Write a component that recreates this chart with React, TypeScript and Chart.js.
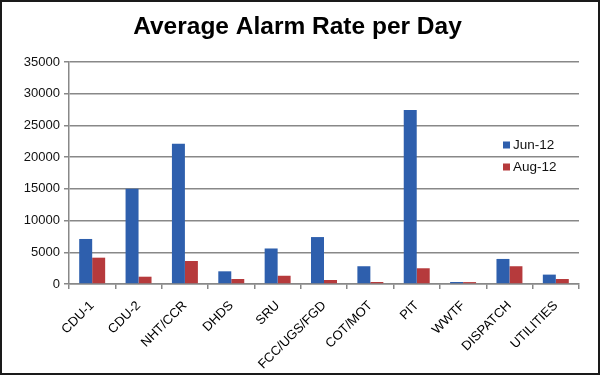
import React, { useEffect, useRef } from "react";
import { Chart, registerables } from "chart.js";

Chart.register(...registerables);

const TITLE = "Average Alarm Rate per Day";
const categories = ["CDU-1", "CDU-2", "NHT/CCR", "DHDS", "SRU", "FCC/UGS/FGD", "COT/MOT", "PIT", "WWTF", "DISPATCH", "UTILITIES"];
const seriesNames = ["Jun-12", "Aug-12"];
const jun12 = [7100, 15000, 22100, 2000, 5600, 7400, 2800, 27450, 320, 3950, 1480];
const aug12 = [4150, 1150, 3630, 790, 1300, 630, 320, 2480, 300, 2800, 790];
const yTicks = [0, 5000, 10000, 15000, 20000, 25000, 30000, 35000];

const BLUE = "#2E5FAD";
const RED = "#B63A3C";
const FONT = "Arial, 'Liberation Sans', sans-serif";

const framePlugin = {
  id: "frame",
  beforeDraw(chart: any) {
    const ctx = chart.ctx;
    ctx.save();
    ctx.fillStyle = "#ffffff";
    ctx.fillRect(0, 0, chart.width, chart.height);
    ctx.restore();
  },
  afterDraw(chart: any) {
    const ctx = chart.ctx;
    ctx.save();
    ctx.strokeStyle = "#1a1a1a";
    ctx.lineWidth = 2;
    ctx.strokeRect(1, 1, chart.width - 2, chart.height - 2);
    // legend
    const items = chart.data.datasets;
    const x0 = 503;
    const ys = [145, 167];
    ctx.font = "13.5px " + FONT;
    ctx.textBaseline = "middle";
    items.forEach((ds: any, i: number) => {
      ctx.fillStyle = ds.backgroundColor;
      ctx.fillRect(x0, ys[i] - 3.5, 7, 7);
      ctx.fillStyle = "#111";
      ctx.fillText(ds.label, x0 + 10, ys[i] + 0.5);
    });
    ctx.restore();
  },
};

export default function App() {
  const ref = useRef<HTMLCanvasElement>(null);
  useEffect(() => {
    document.body.style.margin = "0";
    const chart = new Chart(ref.current!, {
      type: "bar",
      data: {
        labels: categories,
        datasets: [
          { label: seriesNames[0], data: jun12, backgroundColor: BLUE },
          { label: seriesNames[1], data: aug12, backgroundColor: RED },
        ],
      },
      options: {
        animation: false,
        responsive: false,
        layout: { padding: { top: 0, right: 21, left: 16, bottom: 0 } },
        datasets: { bar: { categoryPercentage: 0.56, barPercentage: 1 } },
        plugins: {
          legend: { display: false },
          tooltip: { enabled: false },
          title: {
            display: true,
            text: TITLE,
            color: "#000",
            font: { family: FONT, size: 24.5, weight: "bold" },
            padding: { top: 13, bottom: 19.6 },
          },
        },
        scales: {
          x: {
            afterFit(scale: any) {
              scale.height = 91;
            },
            grid: { display: true, drawOnChartArea: false, drawTicks: true, tickLength: 5, color: "#888", lineWidth: 1.5 },
            border: { color: "#888", width: 1.5 },
            ticks: {
              autoSkip: false,
              maxRotation: 45,
              minRotation: 45,
              color: "#000",
              padding: 9,
              font: { family: FONT, size: 13 },
            },
          },
          y: {
            min: 0,
            max: 35000,
            afterFit(scale: any) {
              scale.width = 53;
            },
            afterBuildTicks(scale: any) {
              scale.ticks = yTicks.map((v) => ({ value: v }));
            },
            grid: { color: "#888", lineWidth: 1.5, tickLength: 5 },
            border: { color: "#888", width: 1.5 },
            ticks: {
              color: "#111",
              padding: 4,
              font: { family: FONT, size: 13 },
              callback: (v: any) => String(v),
            },
          },
        },
      },
      plugins: [framePlugin],
    });
    return () => chart.destroy();
  }, []);
  return <canvas ref={ref} width={600} height={375} style={{ display: "block" }} />;
}
